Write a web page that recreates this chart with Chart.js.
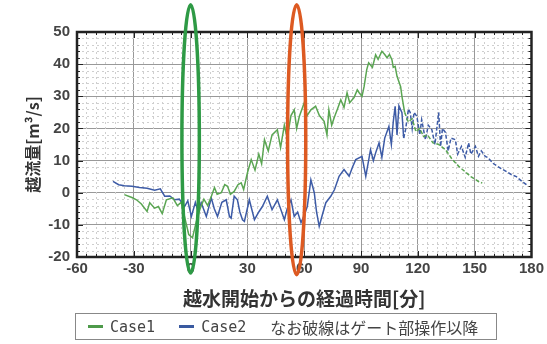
<!DOCTYPE html>
<html>
<head>
<meta charset="utf-8">
<script src="https://cdn.jsdelivr.net/npm/chart.js@4"></script>
<style>
  body { margin: 0; background: #fff; }
  #wrap { position: relative; width: 547px; height: 344px; }
  #legendBox {
    position: absolute; left: 75px; top: 313px; width: 422px; height: 27px;
    border: 1.5px solid #888; box-sizing: border-box;
    font-family: "Noto Sans CJK JP", "DejaVu Sans", sans-serif; font-size: 16px; color: #444;
    display: flex; align-items: center; padding-left: 12px; white-space: nowrap;
  }
  .sw { display: inline-block; width: 15px; height: 3px; margin-right: 7px; vertical-align: middle; }
  .item { margin-right: 24px; display: flex; align-items: center; }
  .mono { font-family: "DejaVu Sans Mono", monospace; font-size: 15px; }
</style>
</head>
<body>
<div id="wrap">
  <canvas id="flowChart" width="547" height="344"></canvas>
  <div id="legendBox">
    <span class="item"><span class="sw" style="background:#4e9a4a"></span><span class="mono">Case1</span></span>
    <span class="item"><span class="sw" style="background:#3a5aa0"></span><span class="mono">Case2</span></span>
    <span>なお破線はゲート部操作以降</span>
  </div>
</div>
<script>
// Case1 (green)
const time1 = [-35,-31,-28.6,-26,-23,-21.6,-19,-17,-15,-12.8,-9.4,-7,-5,-3,-1,1,3,5,7,9,11,12.6,14,16.2,18,19.5,21,23,25,26.7,28,30,32,34,36,37.5,39,41,43,45.8,47.5,49.5,51,53,54.7,56,57.4,60,61.5,63.5,66,68,70.5,72,73,74.5,75.8,77.5,79.3,81,82.6,84,86.3,88,89,90.5,91.6,93,94,96,97.7,99,101,102.5,103.7,105,106.3,107,108,109,110.9,111.6,113,115,117,119,121,123,125,128,131,134.6,138,141.6,145,148,152,154];
const flow1 = [-0.6,-1.5,-2.2,-3.5,-5.8,-3.1,-4.8,-4.3,-6.5,-2.2,-1.6,-4,-3,-8,-13,-14,-9,-5,-2,-4,-1,1.6,-0.5,0,2.5,2,-0.5,0.4,2.5,3.1,1,6.2,10.3,7,12,9,16.5,13,18,19.6,14,21,17,24,25.8,20,23.7,28,24,25.8,26.9,24,22.2,18,25.8,21,23.3,26,28.9,26.5,31.1,28,29.6,32,31.1,30,33,38.3,40.4,39,42.9,41.5,44,43,42,43,41.4,39,39.3,36.2,33,30,25,22,23,19,20,17.5,18,15.5,15,13.4,10.5,8.2,6.5,5,3.5,3];

// Case2 (blue)
const time2 = [-41,-38,-35,-31,-27,-23,-19,-16,-13.7,-11,-8.4,-6,-3.2,-1.5,0.4,2.5,4,5.6,8.3,10.9,12.5,14.2,16.5,18.8,20.5,21.4,23,24.7,26,27.4,28.4,31,33.7,36,37.9,40.5,43,45.8,47.5,49.5,51,53,54.7,56.5,58.3,60,61.6,63.5,65.3,66.5,67.9,69.5,71.4,74,76,78.4,81,83.7,85.5,87.2,90.5,92.5,95,96.5,97.7,99.5,101,102.5,104.7,106,107,108,109,110,111.6,112.5,113.5,115,116,117,118,119.5,121,122,124,125.5,127.4,129,131,132,133,134.6,136,137.5,139.8,141,143,145,146.8,148,150.4,152,153.5,155.6,157,160,164,167,169.5,172,175,178];
const flow2 = [3.5,2.5,2.2,2,1.6,1.4,0.8,1.2,-1.1,-1,-2.2,-2,-4.3,-2.5,-7.4,-3,-6,-3.1,-7.4,-1.6,-5,-7.4,-3,-2.2,-7.4,-7.9,-1.1,-2.2,-6,-8.4,-8.9,-2.2,-8.4,-6,-4.3,-1.1,-5.3,-2.2,-5,-8.4,-5,-2.2,-7.4,-6,-9.3,-7,-4.3,4,0,-6,-10.5,-7,-3.1,-1.1,1,5.1,7.2,5.1,8,10.3,11.3,5.1,13.4,10,12.4,15.5,11,17,20.6,15,22,26.9,18,27,24.9,17,19.6,26,24.9,20,25,23.7,18,22.7,16.5,21,19.6,15,25,14.4,20,18.7,13,17,16.5,12,14.4,11,15.5,12,14.4,11.3,13,11.3,10.9,9,7.5,6.5,5.6,5,3.5,2.2];

// gate operation starts here -> dashed after
const gateTime = 112;

// highlight ellipses (x centre, half width in minutes, y top, y bottom)
const ellipseX = [0, 56];
const ellipseHalfW = [4.6, 4.8];
const ellipseTop = [58.5, 58.5];
const ellipseBottom = [-25, -25.5];
const ellipseColors = ['#2e9a45', '#dd5a22'];

// axis ticks
const xMin = -60, xMax = 180, xMajor = 30, xMinor = 5;
const yMin = -20, yMax = 50, yMajor = 10, yMinor = 2;

function toPoints(xs, ys) {
  return xs.map((x, i) => ({ x, y: ys[i] }));
}

const dashAfterGate = {
  borderDash: c => (c.p0.parsed.x >= gateTime ? [4, 2] : undefined)
};

const extrasPlugin = {
  id: 'extras',
  beforeDatasetsDraw(chart) {
    const { ctx, chartArea: a, scales: { x, y } } = chart;
    ctx.save();
    ctx.strokeStyle = '#cfcfcf';
    ctx.lineWidth = 1;
    ctx.setLineDash([2, 3]);
    for (let v = xMin; v <= xMax; v += xMinor) {
      if (v % xMajor === 0) continue;
      const px = Math.round(x.getPixelForValue(v)) + 0.5;
      ctx.beginPath(); ctx.moveTo(px, a.top); ctx.lineTo(px, a.bottom); ctx.stroke();
    }
    for (let v = yMin; v <= yMax; v += yMinor) {
      if (v % yMajor === 0) continue;
      const py = Math.round(y.getPixelForValue(v)) + 0.5;
      ctx.beginPath(); ctx.moveTo(a.left, py); ctx.lineTo(a.right, py); ctx.stroke();
    }
    ctx.restore();
  },
  afterDatasetsDraw(chart) {
    const { ctx, chartArea: a, scales: { x, y } } = chart;
    ctx.save();
    ctx.strokeStyle = '#222';
    ctx.lineWidth = 1;
    // small inward ticks on all four sides
    for (let v = xMin; v <= xMax; v += xMinor) {
      const px = Math.round(x.getPixelForValue(v)) + 0.5;
      const len = v % xMajor === 0 ? 6 : 3;
      ctx.beginPath();
      ctx.moveTo(px, a.bottom); ctx.lineTo(px, a.bottom - len);
      ctx.moveTo(px, a.top); ctx.lineTo(px, a.top + len);
      ctx.stroke();
    }
    for (let v = yMin; v <= yMax; v += yMinor) {
      const py = Math.round(y.getPixelForValue(v)) + 0.5;
      const len = v % yMajor === 0 ? 6 : 3;
      ctx.beginPath();
      ctx.moveTo(a.left, py); ctx.lineTo(a.left + len, py);
      ctx.moveTo(a.right, py); ctx.lineTo(a.right - len, py);
      ctx.stroke();
    }
    ctx.lineWidth = 2.5;
    ctx.strokeRect(a.left, a.top, a.right - a.left, a.bottom - a.top);
    ctx.restore();
  },
  afterDraw(chart) {
    const { ctx, scales: { x, y } } = chart;
    ctx.save();
    ctx.lineWidth = 3.5;
    ellipseX.forEach((cx, i) => {
      const px = x.getPixelForValue(cx);
      const rx = x.getPixelForValue(cx + ellipseHalfW[i]) - px;
      const top = y.getPixelForValue(ellipseTop[i]);
      const bot = y.getPixelForValue(ellipseBottom[i]);
      ctx.strokeStyle = ellipseColors[i];
      ctx.beginPath();
      ctx.ellipse(px, (top + bot) / 2, rx, (bot - top) / 2, 0, 0, Math.PI * 2);
      ctx.stroke();
    });
    ctx.restore();
  }
};

const tickFont = { family: '"Liberation Sans Narrow", "Liberation Sans", Arial, sans-serif', size: 15, weight: 'bold' };

new Chart(document.getElementById('flowChart'), {
  type: 'line',
  data: {
    datasets: [
      {
        label: 'Case1',
        data: toPoints(time1, flow1),
        borderColor: '#5aa552',
        borderWidth: 1.5,
        pointRadius: 0,
        tension: 0,
        segment: dashAfterGate
      },
      {
        label: 'Case2',
        data: toPoints(time2, flow2),
        borderColor: '#3d5ba6',
        borderWidth: 1.5,
        pointRadius: 0,
        tension: 0,
        segment: dashAfterGate
      }
    ]
  },
  options: {
    responsive: false,
    animation: false,
    layout: { padding: { top: 32, right: 14, left: 0, bottom: 0 } },
    plugins: { legend: { display: false }, tooltip: { enabled: false } },
    scales: {
      x: {
        type: 'linear',
        min: xMin, max: xMax,
        ticks: { stepSize: xMajor, color: '#444', font: tickFont, padding: 3, maxRotation: 0 },
        grid: { color: '#999', drawTicks: false },
        border: { display: false },
        title: {
          display: true, text: '越水開始からの経過時間[分]', color: '#333',
          font: { family: '"Noto Sans CJK JP", sans-serif', size: 19, weight: 'bold' },
          padding: { top: 0, bottom: 34 }
        },
        afterFit: s => { s.height = 87; }
      },
      y: {
        min: yMin, max: yMax,
        ticks: { stepSize: yMajor, color: '#444', font: tickFont, padding: 7 },
        grid: { color: '#999', drawTicks: false },
        border: { display: false },
        title: {
          display: true, text: '越流量[m³/s]', color: '#333',
          font: { family: '"Noto Sans CJK JP", sans-serif', size: 16, weight: 'bold' },
          padding: { top: 23, bottom: 0 }
        },
        afterFit: s => { s.width = 77; }
      }
    }
  },
  plugins: [extrasPlugin]
});
</script>
</body>
</html>
